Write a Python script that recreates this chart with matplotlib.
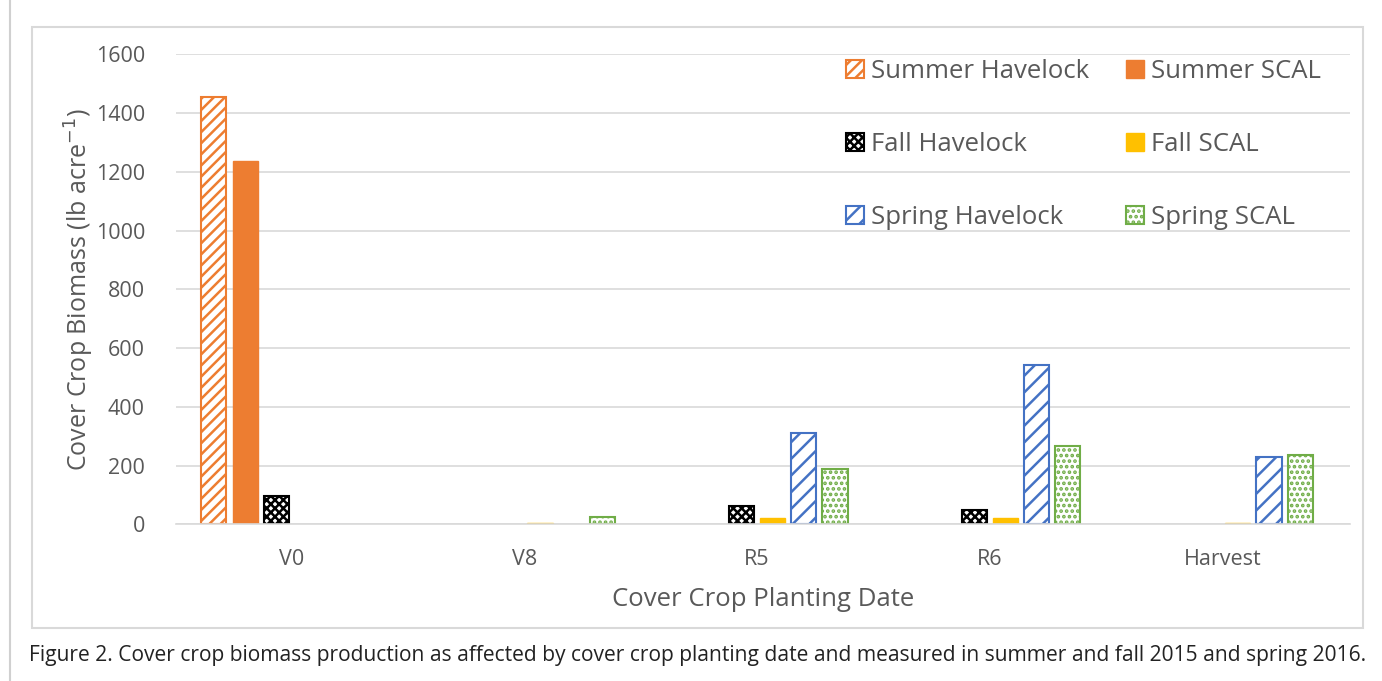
import numpy as np
import matplotlib.pyplot as plt
from matplotlib.patches import Rectangle

plt.rcParams['font.family'] = ['Open Sans', 'DejaVu Sans']
plt.rcParams['hatch.linewidth'] = 1.8

dates = ['V0', 'V8', 'R5', 'R6', 'Harvest']
summer_havelock = [1455, 0, 0, 0, 0]
summer_scal = [1238, 0, 0, 0, 0]
fall_havelock = [95, 0, 62, 48, 0]
fall_scal = [0, 3, 20, 20, 3]
spring_havelock = [0, 0, 310, 542, 228]
spring_scal = [0, 25, 190, 268, 235]

orange = '#ED7D31'
yellow = '#FFC000'
blue = '#4472C4'
green = '#70AD47'
grey = '#595959'


def nz(v):
    # empty bars are not drawn at all
    return [np.nan if a == 0 else a for a in v]


fig = plt.figure(figsize=(13.82, 6.81), dpi=100)
ax = fig.add_axes([0.127, 0.23, 0.85, 0.69])

x = np.arange(len(dates))
slot = 0.134
bw = 0.108
offs = (np.arange(6) - 2.5) * slot

b1 = ax.bar(x + offs[0], nz(summer_havelock), bw, color='white', edgecolor=orange, hatch='///', lw=1.5, label='Summer Havelock')
b2 = ax.bar(x + offs[1], nz(summer_scal), bw, color=orange, edgecolor=orange, lw=1, label='Summer SCAL')
b3 = ax.bar(x + offs[2], nz(fall_havelock), bw, color='white', edgecolor='black', hatch='xxxx', lw=1.5, label='Fall Havelock')
b4 = ax.bar(x + offs[3], nz(fall_scal), bw, color=yellow, edgecolor=yellow, lw=1, label='Fall SCAL')
b5 = ax.bar(x + offs[4], nz(spring_havelock), bw, color='white', edgecolor=blue, hatch='//', lw=1.5, label='Spring Havelock')
b6 = ax.bar(x + offs[5], nz(spring_scal), bw, color='white', edgecolor=green, hatch='...', lw=1.5, label='Spring SCAL')

ax.set_ylim(0, 1600)
ax.set_xlim(-0.5, 4.55)
ax.set_yticks(range(0, 1601, 200))
ax.set_xticks(x)
ax.set_xticklabels(dates)
ax.yaxis.grid(True, color='#D9D9D9', lw=1.2)
ax.set_axisbelow(True)
for s in ['top', 'right', 'left']:
    ax.spines[s].set_visible(False)
ax.spines['bottom'].set_color('#D9D9D9')
ax.spines['bottom'].set_linewidth(1.2)
ax.tick_params(length=0, labelsize=15.5, colors=grey, pad=18)
ax.tick_params(axis='y', pad=22)

ax.set_xlabel('Cover Crop Planting Date', fontsize=18.5, color=grey, labelpad=12)
ax.set_ylabel('Cover Crop Biomass (lb acre$^{-1}$)', fontsize=18, color=grey, labelpad=0)

hs = [b1, b3, b5, b2, b4, b6]
ax.legend(hs, [h.get_label() for h in hs], ncol=2, loc='upper right', bbox_to_anchor=(0.995, 1.04),
          frameon=False, fontsize=18.5, labelcolor=grey, handlelength=0.7, handleheight=0.7,
          handletextpad=0.3, columnspacing=1.4, labelspacing=1.88)

# chart frame and left page rule
fig.patches.append(Rectangle((0.023, 0.078), 0.963, 0.883, transform=fig.transFigure,
                             fill=False, edgecolor='#D9D9D9', lw=1.5))
fig.add_artist(plt.Line2D([0.0075, 0.0075], [0.0, 1.0], transform=fig.transFigure, color='#D0D0D0', lw=1.5))

fig.text(0.021, 0.03, 'Figure 2. Cover crop biomass production as affected by cover crop planting date and measured in summer and fall 2015 and spring 2016.',
         fontsize=15.1, color='#222222')

fig.savefig('out.png', dpi=100)
